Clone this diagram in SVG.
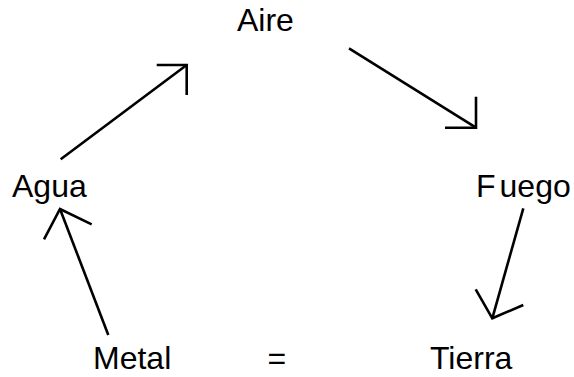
<svg xmlns="http://www.w3.org/2000/svg" width="574" height="377" viewBox="0 0 574 377">
  <style>
    .label { font-family: "Liberation Sans", Arial, sans-serif; font-size: 32px; fill: #000; }
    .edge { fill: none; stroke: #000; stroke-width: 2.6; stroke-linecap: butt; stroke-linejoin: miter; }
  </style>
  <rect width="574" height="377" fill="#fff"/>

  <g id="node-aire"><text class="label" x="237" y="31">Aire</text></g>
  <g id="node-agua"><text class="label" x="12" y="197">Agua</text></g>
  <g id="node-fuego"><text class="label" x="476" y="197">F<tspan dx="4">uego</tspan></text></g>
  <g id="node-metal"><text class="label" x="93" y="369">Metal</text></g>
  <g id="node-eq"><text class="label" x="267.5" y="369">=</text></g>
  <g id="node-tierra"><text class="label" x="430" y="369">Tierra</text></g>

  <g id="connectors">
    <!-- Agua to Aire -->
    <path class="edge" d="M60.7,159.3 L186.7,65"/>
    <path class="edge" d="M156.7,65 L186.7,65 L186.7,95"/>
    <!-- Aire to Fuego -->
    <path class="edge" d="M349,48.3 L476,127.7"/>
    <path class="edge" d="M476,96.7 L476,127.7 L445,127.7"/>
    <!-- Fuego to Tierra -->
    <path class="edge" d="M523.3,208.3 L492.3,318.3"/>
    <path class="edge" d="M475.7,289.3 L492.3,318.3 L523.3,305"/>
    <!-- Metal to Agua -->
    <path class="edge" d="M108.3,335 L60,209"/>
    <path class="edge" d="M44,239.3 L60,209 L91.7,224.3"/>
  </g>
</svg>
